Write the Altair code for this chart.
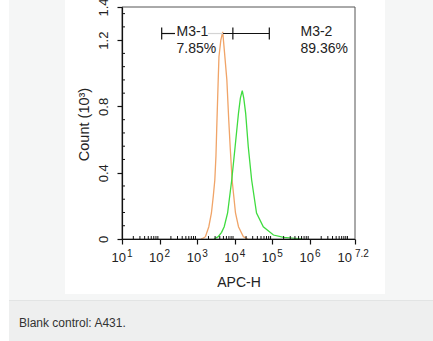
import math
import altair as alt
import pandas as pd

# ---------------- data ----------------
orange_log = [3.10, 3.15, 3.22, 3.31, 3.38, 3.43, 3.47, 3.50, 3.52, 3.56, 3.58, 3.63, 3.68,
              3.73, 3.79, 3.84, 3.88, 3.93, 4.02, 4.10, 4.23, 4.35]
orange_cnt = [0.0, 0.003, 0.014, 0.074, 0.157, 0.26, 0.356, 0.50, 0.66, 0.96, 1.10, 1.20, 1.25,
              1.12, 0.96, 0.72, 0.55, 0.356, 0.157, 0.074, 0.014, 0.0]

green_log = [3.45, 3.56, 3.65, 3.72, 3.81, 3.92, 4.01, 4.10, 4.15, 4.20, 4.24, 4.29, 4.36,
             4.45, 4.58, 4.76, 5.03, 5.30, 5.60, 5.80]
green_cnt = [0.0, 0.014, 0.04, 0.074, 0.157, 0.356, 0.557, 0.76, 0.85, 0.895, 0.85, 0.76, 0.557,
             0.356, 0.157, 0.074, 0.024, 0.010, 0.004, 0.0]

x_major = [1, 2, 3, 4, 5, 6, 7.2]
dec_pos = [1, 2, 3, 4, 5, 6]
dec_exp = ["1", "2", "3", "4", "5", "6"]
end_pos = [7.2]
end_exp = ["7.2"]
x_minor = [k + math.log10(m) for k in range(1, 7) for m in range(2, 10)] + [7.0]

y_major = [0, 0.4, 0.8, 1.2, 1.4]
y_minor = [round(0.08 * i, 2) for i in range(1, 18) if i % 5 != 0]

gate_level = 1.24
gate_black_start = [2.056, 3.69]
gate_black_end = [2.41, 4.92]
gate_gray_start = [3.29]
gate_gray_end = [3.69]
gate_caps = [2.056, 3.95, 4.92]
gate_names = ["M3-1", "M3-2"]
gate_pcts = ["7.85%", "89.36%"]
gate_label_x = [2.45, 5.75]

caption = ["Blank control: A431."]

# ---------------- layout ----------------
PL, PT, W, H = 122, 7, 233, 232
FONT = "Liberation Sans"
ORANGE = "#f0a468"
GREEN = "#3fdc3f"

xs = alt.Scale(domain=[1, 7.2], nice=False, zero=False)
ys = alt.Scale(domain=[0, 1.4], nice=False, zero=True)

XAXIS = alt.Axis(
    values=x_major, labels=False, tickSize=5, tickColor="#111", domainColor="#111",
    domainWidth=1.2, tickWidth=1.2, grid=False, zindex=1,
    title="APC-H", titleFont=FONT, titleFontSize=14, titleFontWeight="normal",
    titleColor="#222", titleBaseline="alphabetic", titleY=47.5, titleX=W / 2,
    titleAlign="center")
YAXIS = alt.Axis(
    values=y_major, format="~g", labelAngle=270, labelAlign="center",
    labelBaseline="alphabetic",
    labelPadding=10, tickSize=5, labelFontSize=13, labelFont=FONT, labelColor="#222",
    labelFlush=False, labelOverlap=False, labelBound=False,
    tickColor="#111", domainColor="#111", domainWidth=1.2, tickWidth=1.2, grid=False,
    zindex=1, title="Count (10³)", titleFont=FONT, titleFontSize=14.5,
    titleFontWeight="normal", titleColor="#222", titleAngle=270,
    titleBaseline="alphabetic", titleAlign="center", titleX=-34, titleY=117)


def X(f):
    return alt.X(f, type="quantitative", scale=xs, axis=XAXIS)


def Y(f):
    return alt.Y(f, type="quantitative", scale=ys, axis=YAXIS)


one = pd.DataFrame({"k": [0]})


def box(x0, x1, y0, y1, color):
    return alt.Chart(one).mark_rect(color=color).encode(
        x=alt.value(x0 - PL), x2=alt.value(x1 - PL),
        y=alt.value(y0 - PT), y2=alt.value(y1 - PT))


bg_gray = box(9, 433, 0, 300, "#f5f6f6")
bg_white = box(65, 385, 0, 294, "#ffffff")
bg_line = box(9, 433, 300, 301, "#e2e4e4")
bg_cap = box(9, 433, 301, 341, "#eeefef")

cap_text = alt.Chart(pd.DataFrame({"t": caption})).mark_text(
    align="left", baseline="alphabetic", fontSize=12, font=FONT, color="#333333"
).encode(x=alt.value(19 - PL), y=alt.value(327 - PT), text="t:N")

curves = pd.DataFrame({
    "log": orange_log + green_log,
    "cnt": orange_cnt + green_cnt,
    "s": ["blank"] * len(orange_log) + ["sample"] * len(green_log),
})

lines = alt.Chart(curves).mark_line(strokeWidth=1.3).encode(
    x=X("log"), y=Y("cnt"),
    color=alt.Color("s:N", scale=alt.Scale(domain=["blank", "sample"],
                                           range=[ORANGE, GREEN]), legend=None),
    order=alt.Order("log:Q"),
)

frame = alt.Chart(one).mark_rect(fillOpacity=0, stroke="#555555", strokeWidth=1).encode(
    x=alt.value(0), x2=alt.value(W), y=alt.value(0), y2=alt.value(H))

xminor = alt.Chart(pd.DataFrame({"v": x_minor})).mark_rule(color="#111", strokeWidth=1).encode(
    x=X("v"), y=alt.value(H - 3), y2=alt.value(H))
yminor = alt.Chart(pd.DataFrame({"v": y_minor})).mark_rule(color="#111", strokeWidth=1).encode(
    y=Y("v"), x=alt.value(0), x2=alt.value(3))

dec_df = pd.DataFrame({"p": dec_pos, "e": dec_exp, "b": ["10"] * len(dec_pos)})
end_df = pd.DataFrame({"p": end_pos, "e": end_exp, "b": ["10"] * len(end_pos)})


def xlabels(df, base_dx, exp_dx):
    base = alt.Chart(df).mark_text(align="right", baseline="alphabetic", fontSize=13,
                                   font=FONT, color="#222", dx=base_dx).encode(
        x=X("p"), y=alt.value(H + 23), text="b:N")
    exp = alt.Chart(df).mark_text(align="left", baseline="alphabetic", fontSize=10,
                                  font=FONT, color="#222", dx=exp_dx).encode(
        x=X("p"), y=alt.value(H + 18), text="e:N")
    return base + exp


gate_black = alt.Chart(pd.DataFrame({"a": gate_black_start, "b": gate_black_end,
                                     "y": [gate_level] * 2})).mark_rule(
    color="#111", strokeWidth=1.2).encode(x=X("a"), x2="b:Q", y=Y("y"))
gate_gray = alt.Chart(pd.DataFrame({"a": gate_gray_start, "b": gate_gray_end,
                                    "y": [gate_level]})).mark_rule(
    color="#d4d4d4", strokeWidth=1.2).encode(x=X("a"), x2="b:Q", y=Y("y"))
gate_cap = alt.Chart(pd.DataFrame({"a": gate_caps, "y": [gate_level] * 3})).mark_tick(
    orient="vertical", size=12, thickness=1.2, color="#111", opacity=1).encode(
    x=X("a"), y=Y("y"))

gl = pd.DataFrame({"x": gate_label_x, "n": gate_names, "p": gate_pcts,
                   "y": [gate_level] * 2})
gname = alt.Chart(gl).mark_text(align="left", baseline="alphabetic", fontSize=14, font=FONT,
                                color="#222", dy=2).encode(x=X("x"), y=Y("y"), text="n:N")
gpct = alt.Chart(gl).mark_text(align="left", baseline="alphabetic", fontSize=14, font=FONT,
                               color="#222", dy=19).encode(x=X("x"), y=Y("y"), text="p:N")

chart = alt.layer(
    bg_gray, bg_white, bg_line, bg_cap, cap_text,
    lines, frame, xminor, yminor,
    xlabels(dec_df, 4, 5), xlabels(end_df, -3, 0),
    gate_gray, gate_black, gate_cap, gname, gpct,
).properties(
    width=W, height=H,
    autosize=alt.AutoSizeParams(type="none"),
    padding={"left": PL, "top": PT, "right": 433 - PL - W, "bottom": 341 - PT - H},
    background="#ffffff",
).configure_view(stroke=None)

chart.save("out.html", embed_options={"renderer": "svg", "actions": False})
